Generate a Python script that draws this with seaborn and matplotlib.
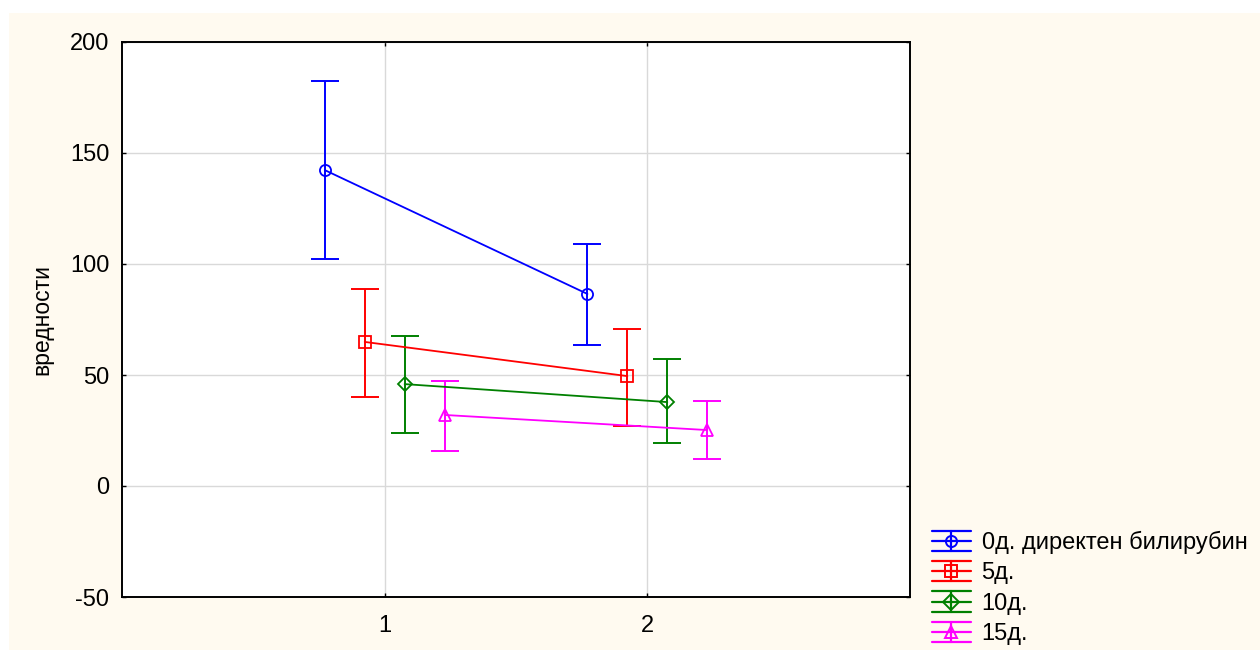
import numpy as np
import pandas as pd
import matplotlib
matplotlib.use("Agg")
import matplotlib.pyplot as plt
from matplotlib.lines import Line2D
from matplotlib.patches import Rectangle
from matplotlib.legend_handler import HandlerBase
import seaborn as sns

# values
groups = [1, 2]
series_names = ['0д. директен билирубин', '5д.', '10д.', '15д.']
means = [[142.3, 86.5], [64.9, 49.5], [45.9, 37.8], [32.0, 25.2]]
lower = [[102.3, 63.5], [40.1, 27.0], [23.9, 19.4], [15.8, 12.2]]
upper = [[182.4, 109.0], [88.7, 70.7], [67.6, 57.2], [47.3, 38.3]]

colors = ['#0000ff', '#ff0000', '#008000', '#ff00ff']
markers = ['o', 's', 'D', '^']
marker_sizes = [8, 8, 7, 8]

sns.set_theme(style='white')
plt.rcParams['font.family'] = ['Liberation Sans', 'DejaVu Sans']
plt.rcParams['axes.unicode_minus'] = False
plt.rcParams['text.color'] = 'black'
plt.rcParams['axes.labelcolor'] = 'black'

# dodge the series around each group position
offsets = (np.arange(len(series_names)) - 1.5) * 0.152

rows = []
for i, name in enumerate(series_names):
    for j, g in enumerate(groups):
        rows.append({'x': g + offsets[i], 'value': means[i][j], 'series': name})
df = pd.DataFrame(rows)

fig = plt.figure(figsize=(12.6, 6.5), dpi=100, facecolor='white')
fig.patches.append(Rectangle((9 / 1260, 0), 1, 1 - 13 / 650, transform=fig.transFigure,
                             facecolor='#fffaf0', edgecolor='none', zorder=-1))
ax = fig.add_axes([122 / 1260, 1 - 597 / 650, (910 - 122) / 1260, (597 - 42) / 650])
ax.set_facecolor('white')

sns.lineplot(data=df, x='x', y='value', hue='series', style='series',
             palette=colors, markers=markers, dashes=False, errorbar=None,
             legend=False, lw=1.3, ax=ax, zorder=3)

for line, c, ms in zip(ax.lines, colors, marker_sizes):
    line.set_markerfacecolor('none')
    line.set_markeredgecolor(c)
    line.set_markeredgewidth(1.3)
    line.set_markersize(ms)

for i, c in enumerate(colors):
    xs = np.array(groups) + offsets[i]
    m = np.array(means[i])
    err = [m - np.array(lower[i]), np.array(upper[i]) - m]
    ax.errorbar(xs, m, yerr=err, fmt='none', ecolor=c, elinewidth=1.4,
                capsize=9.8, capthick=1.4, zorder=2)

ax.set_xlim(0, 3)
ax.set_ylim(-50, 200)
ax.set_xticks(groups)
ax.set_yticks(np.arange(-50, 201, 50))
ax.set_xlabel('')
ax.set_ylabel('вредности', fontsize=16.5, labelpad=12, color='black')
ax.grid(True, color='#d9d9d9', lw=1)
ax.set_axisbelow(True)
ax.tick_params(direction='in', length=3, width=1, colors='black', labelsize=17,
               top=True, right=True, left=True, bottom=True)
ax.tick_params(axis='x', pad=13)
ax.tick_params(axis='y', pad=9)
for s in ax.spines.values():
    s.set_visible(True)
    s.set_color('black')
    s.set_linewidth(1.4)


class ErrHandler(HandlerBase):
    def create_artists(self, legend, orig_handle, xdescent, ydescent, width, height,
                       fontsize, trans):
        c = orig_handle.get_color()
        x0, x1 = -xdescent, -xdescent + width
        y0, y1 = -ydescent, -ydescent + height
        ym, xm = (y0 + y1) / 2, (x0 + x1) / 2
        arts = [Line2D([x0, x1], [y, y], color=c, lw=1.6) for y in (y0, ym, y1)]
        arts.append(Line2D([xm, xm], [y0, y1], color=c, lw=1.6))
        arts.append(Line2D([xm], [ym], marker=orig_handle.get_marker(), ms=8,
                           mfc='none', mec=c, mew=1.4, ls='none'))
        for a in arts:
            a.set_transform(trans)
        return arts


handles = [Line2D([], [], color=c, marker=mk) for c, mk in zip(colors, markers)]
leg = fig.legend(handles, series_names, handler_map={Line2D: ErrHandler()},
                 loc='lower left', bbox_to_anchor=(932 / 1260, 5 / 650),
                 bbox_transform=fig.transFigure, frameon=False, fontsize=17,
                 borderpad=0, borderaxespad=0, handlelength=1.65, handleheight=0.95,
                 handletextpad=0.45, labelspacing=0.3)
for t in leg.get_texts():
    t.set_color('black')

fig.savefig('out.png', dpi=100, facecolor=fig.get_facecolor())
